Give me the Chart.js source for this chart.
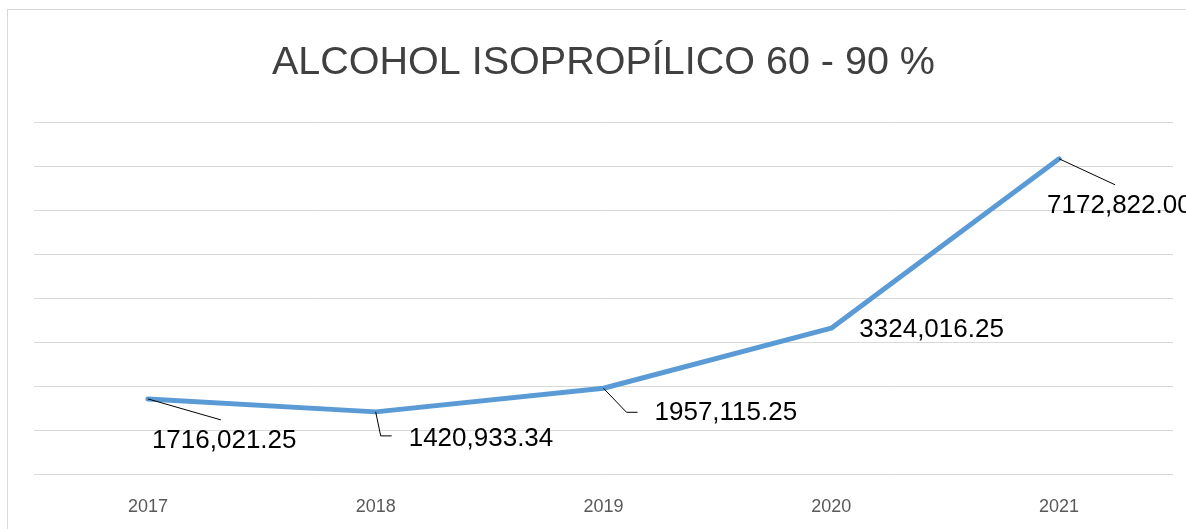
<!DOCTYPE html>
<html>
<head>
<meta charset="utf-8">
<script src="https://cdn.jsdelivr.net/npm/chart.js@4/dist/chart.umd.min.js"></script>
<style>
  html, body { margin: 0; padding: 0; background: #fff; }
  #wrap { width: 1186px; height: 529px; position: relative; }
</style>
</head>
<body>
<div id="wrap"><canvas id="chart"></canvas></div>
<script>
// datos
const years = ['2017', '2018', '2019', '2020', '2021'];
const values = [1716021.25, 1420933.34, 1957115.25, 3324016.25, 7172822.00];
const valueLabels = ['1716,021.25', '1420,933.34', '1957,115.25', '3324,016.25', '7172,822.00'];
const chartTitle = 'ALCOHOL ISOPROPÍLICO 60 - 90 %';

// posición de cada etiqueta respecto al punto (líneas guía como en Excel)
const labelStyle = [
  { tx: 4, ty: 42, leader: [[0, 0], [73, 21]] },
  { tx: 33, ty: 27, leader: [[0, 0], [5, 24], [16, 24]] },
  { tx: 51, ty: 25, leader: [[0, 0], [23, 24], [34, 24]] },
  { tx: 28, ty: 2, leader: null },
  { tx: -12, ty: 47, leader: [[0, 0], [56, 26]] }
];

const frame = {
  id: 'frame',
  beforeDraw(chart) {
    const c = chart.ctx;
    c.save();
    c.fillStyle = '#fff';
    c.fillRect(0, 0, chart.width, chart.height);
    c.strokeStyle = '#d9d9d9';
    c.lineWidth = 1;
    c.strokeRect(7.5, 9.5, chart.width + 20, chart.height + 20);
    c.restore();
  }
};

const dataLabels = {
  id: 'dataLabels',
  afterDatasetsDraw(chart) {
    const c = chart.ctx;
    const pts = chart.getDatasetMeta(0).data;
    c.save();
    c.font = '26px "Liberation Sans", Arial, sans-serif';
    c.fillStyle = '#000';
    c.textBaseline = 'middle';
    c.textAlign = 'left';
    pts.forEach((p, i) => {
      const s = labelStyle[i];
      if (s.leader) {
        c.beginPath();
        c.strokeStyle = '#000';
        c.lineWidth = 1;
        s.leader.forEach((q, k) => {
          if (k === 0) c.moveTo(p.x + q[0], p.y + q[1]);
          else c.lineTo(p.x + q[0], p.y + q[1]);
        });
        c.stroke();
      }
      c.fillText(valueLabels[i], p.x + s.tx, p.y + s.ty);
    });
    c.restore();
  }
};

new Chart(document.getElementById('chart'), {
  type: 'line',
  data: {
    labels: years,
    datasets: [{
      data: values,
      borderColor: '#5b9bd5',
      borderWidth: 5,
      borderCapStyle: 'round',
      borderJoinStyle: 'round',
      pointRadius: 0,
      tension: 0,
      fill: false
    }]
  },
  options: {
    responsive: true,
    maintainAspectRatio: false,
    animation: false,
    layout: { padding: { left: 34, right: 13, bottom: -11 } },
    plugins: {
      legend: { display: false },
      tooltip: { enabled: false },
      title: {
        display: true,
        text: chartTitle,
        color: '#404040',
        font: { family: '"Liberation Sans", Arial, sans-serif', size: 39.5, weight: 'normal' },
        padding: { top: 39, bottom: 36 }
      }
    },
    scales: {
      x: {
        offset: true,
        grid: { display: false, drawTicks: false },
        border: { display: false },
        ticks: {
          color: '#595959',
          font: { family: '"Liberation Sans", Arial, sans-serif', size: 18 },
          padding: 22
        }
      },
      y: {
        min: 0,
        max: 8000000,
        ticks: { display: false, stepSize: 1000000 },
        grid: { color: '#d9d9d9', lineWidth: 1, drawTicks: false },
        border: { display: false }
      }
    }
  },
  plugins: [frame, dataLabels]
});
</script>
</body>
</html>
